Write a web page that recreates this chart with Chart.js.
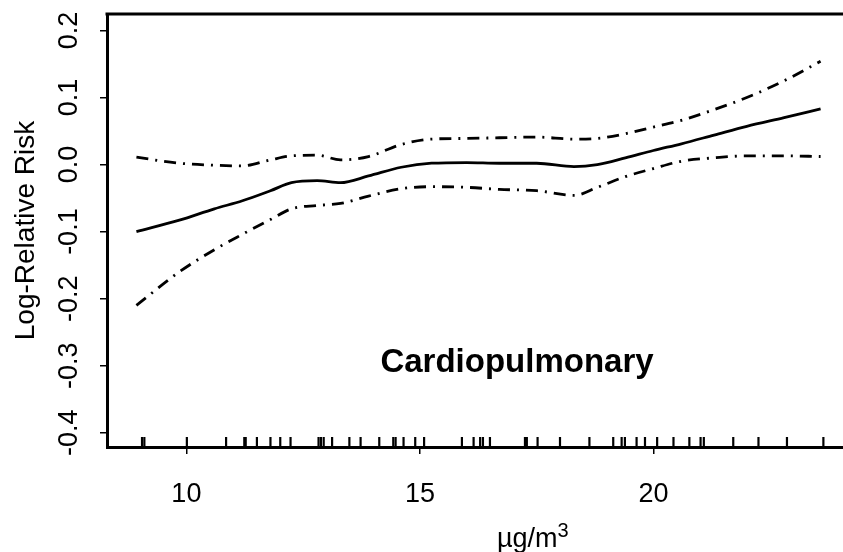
<!DOCTYPE html>
<html>
<head>
<meta charset="utf-8">
<script src="https://cdn.jsdelivr.net/npm/chart.js@4.4.1/dist/chart.umd.min.js"></script>
<style>
  html, body { margin: 0; padding: 0; background: #fff; }
  #chart { display: block; }
</style>
</head>
<body>
<canvas id="chart" width="843" height="552"></canvas>
<script>
const pm = [8.93, 9.85, 10.6, 11.2, 11.8, 12.25, 12.8, 13.3, 13.9, 14.6, 15.25, 16,
            16.7, 17.5, 18.3, 18.8, 19.4, 20, 20.6, 21.3, 22, 22.8, 23.58];
// fitted log-relative risk
const fit = [-0.100, -0.083, -0.066, -0.054, -0.039, -0.027, -0.024, -0.027, -0.017, -0.004, 0.002, 0.003,
             0.002, 0.002, -0.003, 0.000, 0.010, 0.021, 0.031, 0.044, 0.057, 0.070, 0.083];
// upper / lower confidence band
const upper = [0.011, 0.002, -0.001, -0.002, 0.007, 0.013, 0.014, 0.007, 0.012, 0.030, 0.038, 0.039,
               0.040, 0.041, 0.038, 0.039, 0.046, 0.056, 0.066, 0.082, 0.100, 0.125, 0.154];
const lower = [-0.210, -0.160, -0.127, -0.104, -0.082, -0.066, -0.061, -0.058, -0.047, -0.036, -0.033, -0.034,
               -0.037, -0.039, -0.046, -0.034, -0.018, -0.006, 0.005, 0.010, 0.013, 0.013, 0.012];
// rug of observed city values
const rug = [9.05, 9.10, 10.01, 10.85, 11.24, 11.27, 11.51, 11.80, 12.01, 12.23, 12.83, 12.88, 12.94,
             13.12, 13.49, 13.73, 14.13, 14.43, 14.48, 14.65, 14.90, 15.09, 15.90, 16.15, 16.29,
             16.35, 16.50, 17.25, 17.29, 17.52, 18.00, 18.63, 19.14, 19.32, 19.39, 19.64, 19.82,
             20.08, 20.43, 20.77, 21.01, 21.08, 21.71, 22.25, 22.86, 23.64];
const xTicks = [10, 15, 20];
const yTicks = [-0.4, -0.3, -0.2, -0.1, 0.0, 0.1, 0.2];

const X_MIN = 8.30, X_MAX = 24.06;
const Y_MIN = -0.4213, Y_MAX = 0.2246;

const FONT = "'Liberation Sans', Arial, sans-serif";
const dashDot = [12, 7, 2, 7];

function pts(ys) {
    return pm.map((x, i) => ({ x: x, y: ys[i] }));
}

// top frame line, rotated y tick labels and extra text
const extras = {
    id: 'extras',
    afterDraw(chart) {
        const ctx = chart.ctx;
        const a = chart.chartArea;
        const xs = chart.scales.x, ys = chart.scales.y;
        ctx.save();
        ctx.strokeStyle = '#000';
        ctx.lineWidth = 3;
        ctx.beginPath();
        ctx.moveTo(a.left - 1.5, a.top);
        ctx.lineTo(a.right, a.top);
        ctx.stroke();

        ctx.fillStyle = '#000';
        // y tick labels, reading upwards like R
        ctx.font = '27px ' + FONT;
        ctx.textAlign = 'center';
        ctx.textBaseline = 'middle';
        yTicks.forEach(v => {
            ctx.save();
            ctx.translate(70, ys.getPixelForValue(v));
            ctx.rotate(-Math.PI / 2);
            ctx.fillText(v.toFixed(1), 0, 0);
            ctx.restore();
        });

        ctx.textBaseline = 'alphabetic';
        ctx.font = 'bold 33px ' + FONT;
        ctx.fillText('Cardiopulmonary', xs.getPixelForValue(17.08), ys.getPixelForValue(-0.31));

        // x axis title with superscript
        ctx.textAlign = 'left';
        ctx.font = '27px ' + FONT;
        ctx.fillText('\u00b5g/m', 497, 547);
        const w = ctx.measureText('\u00b5g/m').width;
        ctx.font = '20px ' + FONT;
        ctx.fillText('3', 497 + w, 537);
        ctx.restore();
    }
};

new Chart(document.getElementById('chart'), {
    type: 'line',
    data: {
        datasets: [
            { label: 'fit', data: pts(fit), borderColor: '#000', borderWidth: 2.8,
              pointRadius: 0, cubicInterpolationMode: 'monotone', fill: false },
            { label: 'upper', data: pts(upper), borderColor: '#000', borderWidth: 2.8, borderDash: dashDot,
              pointRadius: 0, cubicInterpolationMode: 'monotone', fill: false },
            { label: 'lower', data: pts(lower), borderColor: '#000', borderWidth: 2.8, borderDash: dashDot,
              pointRadius: 0, cubicInterpolationMode: 'monotone', fill: false },
            { label: 'rug', type: 'scatter', data: rug.map(v => ({ x: v, y: Y_MIN + 0.0075 })),
              pointStyle: 'line', rotation: 90, radius: 5, borderColor: '#000', borderWidth: 2.2,
              clip: false }
        ]
    },
    options: {
        responsive: false,
        animation: false,
        events: [],
        layout: { autoPadding: false, padding: { top: 14, right: 0, left: 0, bottom: 0 } },
        plugins: { legend: { display: false }, tooltip: { enabled: false } },
        scales: {
            x: {
                type: 'linear', min: X_MIN, max: X_MAX,
                afterBuildTicks: s => { s.ticks = xTicks.map(v => ({ value: v })); },
                afterFit: s => { s.height = 105; },
                ticks: { color: '#000', font: { family: FONT, size: 27 }, padding: 24, maxRotation: 0 },
                grid: { drawOnChartArea: false, drawTicks: true, tickLength: 7, color: '#000', lineWidth: 1.5 },
                border: { color: '#000', width: 3 }
            },
            y: {
                type: 'linear', min: Y_MIN, max: Y_MAX,
                afterBuildTicks: s => { s.ticks = yTicks.map(v => ({ value: v })); },
                afterFit: s => { s.width = 107; },
                ticks: { display: false },
                grid: { drawOnChartArea: false, drawTicks: true, tickLength: 7, color: '#000', lineWidth: 1.5 },
                border: { color: '#000', width: 3 },
                title: { display: true, text: 'Log-Relative Risk', color: '#000',
                         font: { family: FONT, size: 28 }, padding: { top: 9, bottom: 0 } }
            }
        }
    },
    plugins: [extras]
});
</script>
</body>
</html>
